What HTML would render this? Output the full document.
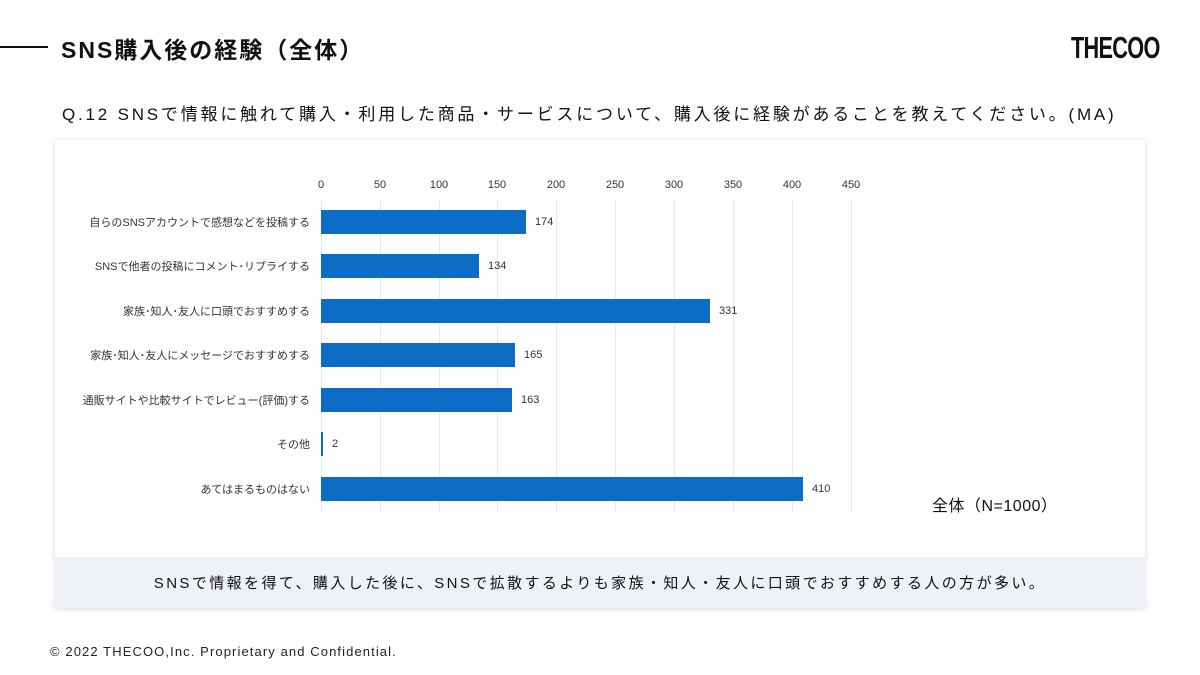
<!DOCTYPE html>
<html><head><meta charset="utf-8"><style>
body{margin:0;width:1200px;height:675px;background:#fff;position:relative;overflow:hidden;font-family:"Liberation Sans","Noto Sans CJK JP",sans-serif;color:#111}
.a{position:absolute;white-space:nowrap}
.lbl{position:absolute;right:890px;font-size:11px;color:#333;text-align:right;transform:translateY(-50%)}
.bar{position:absolute;left:321px;height:24px;background:#0b6dc5}
.val{position:absolute;font-size:11px;color:#333;transform:translateY(-50%)}
.tick{position:absolute;top:179px;font-size:11px;color:#333;transform:translateX(-50%)}
.grid{position:absolute;top:200px;height:312px;width:1px;background:#e4e8f0}
</style></head><body>
<div class="a" style="left:0;top:46px;width:48px;height:2px;background:#111"></div>
<div class="a" style="left:61px;top:31px;font-size:23px;font-weight:bold;letter-spacing:2px">SNS購入後の経験（全体）</div>
<div class="a" style="left:1071px;top:30px;font-size:31px;font-weight:bold;letter-spacing:-1px;transform:scaleX(0.7);transform-origin:left">THECOO</div>
<div class="a" style="left:62px;top:100px;font-size:17px;letter-spacing:2.8px">Q.12 SNSで情報に触れて購入・利用した商品・サービスについて、購入後に経験があることを教えてください。(MA)</div>
<div class="a" style="left:55px;top:140px;width:1090px;height:468px;background:#fff;box-shadow:0 1px 6px rgba(0,0,0,0.15)"></div>
<div class="a" style="left:55px;top:557px;width:1090px;height:51px;background:#eef1f5"></div>
<div class="a" style="left:55px;top:572px;width:1090px;text-align:center;font-size:15px;letter-spacing:2.4px">SNSで情報を得て、購入した後に、SNSで拡散するよりも家族・知人・友人に口頭でおすすめする人の方が多い。</div>
<div class="grid" style="left:321px"></div><div class="grid" style="left:380px"></div><div class="grid" style="left:439px"></div><div class="grid" style="left:497px"></div><div class="grid" style="left:556px"></div><div class="grid" style="left:615px"></div><div class="grid" style="left:674px"></div><div class="grid" style="left:733px"></div><div class="grid" style="left:792px"></div><div class="grid" style="left:851px"></div>
<div class="tick" style="left:321px">0</div><div class="tick" style="left:380px">50</div><div class="tick" style="left:439px">100</div><div class="tick" style="left:497px">150</div><div class="tick" style="left:556px">200</div><div class="tick" style="left:615px">250</div><div class="tick" style="left:674px">300</div><div class="tick" style="left:733px">350</div><div class="tick" style="left:792px">400</div><div class="tick" style="left:851px">450</div>

<div class="lbl" style="top:222px">自らのSNSアカウントで感想などを投稿する</div><div class="bar" style="top:210px;width:205px"></div><div class="val" style="top:222px;left:535px">174</div>
<div class="lbl" style="top:266px">SNSで他者の投稿にコメント･リプライする</div><div class="bar" style="top:254px;width:158px"></div><div class="val" style="top:266px;left:488px">134</div>
<div class="lbl" style="top:311px">家族･知人･友人に口頭でおすすめする</div><div class="bar" style="top:299px;width:389px"></div><div class="val" style="top:311px;left:719px">331</div>
<div class="lbl" style="top:355px">家族･知人･友人にメッセージでおすすめする</div><div class="bar" style="top:343px;width:194px"></div><div class="val" style="top:355px;left:524px">165</div>
<div class="lbl" style="top:400px">通販サイトや比較サイトでレビュー(評価)する</div><div class="bar" style="top:388px;width:191px"></div><div class="val" style="top:400px;left:521px">163</div>
<div class="lbl" style="top:444px">その他</div><div class="bar" style="top:432px;width:2px"></div><div class="val" style="top:444px;left:332px">2</div>
<div class="lbl" style="top:489px">あてはまるものはない</div><div class="bar" style="top:477px;width:482px"></div><div class="val" style="top:489px;left:812px">410</div>
<div class="a" style="left:932px;top:492px;font-size:16px;letter-spacing:0.5px">全体（N=1000）</div>
<div class="a" style="left:50px;top:644px;font-size:13px;color:#222;letter-spacing:1.1px">© 2022 THECOO,Inc. Proprietary and Confidential.</div>
</body></html>
